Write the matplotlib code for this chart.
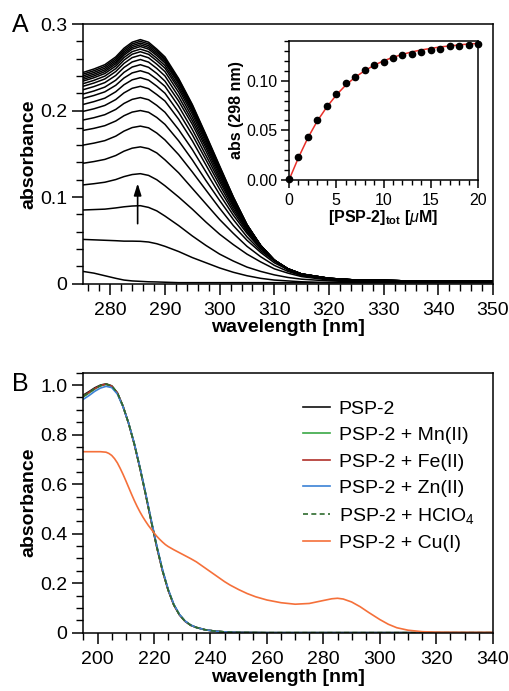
import matplotlib
matplotlib.use('Agg')
import matplotlib.pyplot as plt
from matplotlib.ticker import MultipleLocator

plt.rcParams['font.family'] = ['Liberation Sans', 'DejaVu Sans']
plt.rcParams['mathtext.fontset'] = 'custom'
plt.rcParams['mathtext.rm'] = 'Liberation Sans'
plt.rcParams['mathtext.it'] = 'Liberation Sans:italic'
plt.rcParams['mathtext.bf'] = 'Liberation Sans:bold'

# Panel A: titration spectra (0-20 uM PSP-2)
wl_a = [275, 277, 279, 281, 282.5, 284, 285.5, 287, 288.5, 290, 292.5, 295, 297.5, 300,
        302.5, 305, 307.5, 310, 312.5, 315, 320, 325, 335, 350]
spectra_a = [
    [0.014, 0.012, 0.009, 0.006, 0.004, 0.003, 0.0025, 0.002, 0.0018, 0.0015, 0.001, 0.001, 0.001, 0.001, 0.001, 0.001, 0.001, 0.001, 0.001, 0.001, 0.001, 0.001, 0.001, 0.001],
    [0.051, 0.0505, 0.050, 0.0495, 0.049, 0.049, 0.0488, 0.048, 0.046, 0.043, 0.037, 0.030, 0.024, 0.018, 0.013, 0.009, 0.006, 0.004, 0.003, 0.002, 0.001, 0.001, 0.001, 0.001],
    [0.085, 0.0855, 0.086, 0.0874, 0.0887, 0.0896, 0.090, 0.088, 0.084, 0.078, 0.067, 0.055, 0.044, 0.034, 0.026, 0.019, 0.014, 0.010, 0.007, 0.005, 0.003, 0.002, 0.002, 0.002],
    [0.114, 0.1154, 0.1171, 0.1202, 0.1236, 0.126, 0.127, 0.125, 0.120, 0.113, 0.100, 0.086, 0.071, 0.057, 0.045, 0.034, 0.025, 0.017, 0.012, 0.008, 0.004, 0.003, 0.002, 0.002],
    [0.139, 0.141, 0.1435, 0.148, 0.153, 0.1565, 0.158, 0.156, 0.151, 0.143, 0.128, 0.110, 0.092, 0.074, 0.058, 0.043, 0.031, 0.021, 0.014, 0.009, 0.005, 0.003, 0.002, 0.002],
    [0.160, 0.1623, 0.1652, 0.1704, 0.1762, 0.1803, 0.182, 0.180, 0.174, 0.166, 0.149, 0.129, 0.108, 0.087, 0.067, 0.050, 0.036, 0.024, 0.016, 0.011, 0.005, 0.004, 0.003, 0.002],
    [0.177, 0.1794, 0.1825, 0.1879, 0.1940, 0.1982, 0.200, 0.198, 0.192, 0.184, 0.165, 0.143, 0.119, 0.096, 0.074, 0.054, 0.038, 0.026, 0.017, 0.011, 0.006, 0.004, 0.003, 0.002],
    [0.189, 0.1917, 0.1952, 0.2013, 0.2082, 0.2129, 0.215, 0.2125, 0.206, 0.198, 0.178, 0.155, 0.129, 0.103, 0.079, 0.058, 0.040, 0.027, 0.017, 0.011, 0.006, 0.004, 0.003, 0.002],
    [0.199, 0.202, 0.2059, 0.2127, 0.2204, 0.2257, 0.228, 0.2253, 0.2185, 0.211, 0.190, 0.165, 0.137, 0.109, 0.083, 0.060, 0.041, 0.027, 0.017, 0.011, 0.006, 0.004, 0.003, 0.002],
    [0.207, 0.2103, 0.2143, 0.2217, 0.2298, 0.2355, 0.238, 0.2352, 0.2282, 0.220, 0.198, 0.172, 0.143, 0.114, 0.086, 0.062, 0.042, 0.027, 0.017, 0.011, 0.006, 0.004, 0.003, 0.003],
    [0.214, 0.2174, 0.2216, 0.2292, 0.2376, 0.2435, 0.246, 0.2431, 0.2361, 0.228, 0.205, 0.178, 0.148, 0.118, 0.089, 0.063, 0.043, 0.027, 0.017, 0.011, 0.006, 0.004, 0.003, 0.003],
    [0.219, 0.2226, 0.2271, 0.2351, 0.2441, 0.2503, 0.253, 0.250, 0.2429, 0.234, 0.211, 0.184, 0.153, 0.121, 0.091, 0.065, 0.043, 0.027, 0.017, 0.011, 0.006, 0.004, 0.003, 0.003],
    [0.224, 0.2277, 0.2323, 0.2406, 0.2498, 0.2562, 0.259, 0.256, 0.2487, 0.240, 0.216, 0.188, 0.157, 0.124, 0.093, 0.066, 0.043, 0.027, 0.017, 0.011, 0.006, 0.004, 0.003, 0.003],
    [0.228, 0.2318, 0.2365, 0.2451, 0.2545, 0.2612, 0.264, 0.261, 0.2536, 0.245, 0.221, 0.192, 0.160, 0.127, 0.094, 0.066, 0.044, 0.027, 0.017, 0.011, 0.006, 0.004, 0.003, 0.003],
    [0.231, 0.2349, 0.2398, 0.2485, 0.2583, 0.2651, 0.268, 0.265, 0.2575, 0.249, 0.225, 0.196, 0.163, 0.129, 0.096, 0.067, 0.044, 0.027, 0.016, 0.010, 0.005, 0.004, 0.003, 0.003],
    [0.234, 0.2379, 0.2428, 0.2515, 0.2613, 0.2681, 0.271, 0.268, 0.2605, 0.252, 0.228, 0.199, 0.166, 0.131, 0.097, 0.067, 0.044, 0.027, 0.016, 0.010, 0.005, 0.004, 0.003, 0.003],
    [0.236, 0.240, 0.245, 0.254, 0.264, 0.271, 0.274, 0.271, 0.2635, 0.255, 0.231, 0.201, 0.167, 0.132, 0.098, 0.067, 0.044, 0.027, 0.016, 0.010, 0.005, 0.004, 0.003, 0.003],
    [0.238, 0.242, 0.247, 0.256, 0.266, 0.273, 0.276, 0.273, 0.2655, 0.257, 0.233, 0.203, 0.169, 0.133, 0.098, 0.068, 0.044, 0.027, 0.016, 0.010, 0.005, 0.004, 0.003, 0.003],
    [0.240, 0.244, 0.249, 0.258, 0.268, 0.275, 0.278, 0.275, 0.2675, 0.259, 0.234, 0.204, 0.170, 0.134, 0.099, 0.068, 0.044, 0.027, 0.016, 0.010, 0.005, 0.004, 0.003, 0.003],
    [0.242, 0.246, 0.251, 0.260, 0.270, 0.277, 0.280, 0.277, 0.2695, 0.260, 0.236, 0.206, 0.171, 0.135, 0.100, 0.068, 0.044, 0.027, 0.016, 0.010, 0.005, 0.004, 0.003, 0.003],
    [0.244, 0.248, 0.253, 0.262, 0.272, 0.279, 0.282, 0.279, 0.271, 0.262, 0.237, 0.207, 0.172, 0.136, 0.100, 0.068, 0.044, 0.027, 0.016, 0.010, 0.005, 0.004, 0.003, 0.003],
]

# inset: abs at 298 nm vs total PSP-2
conc = list(range(21))
abs298 = [0.001, 0.023, 0.043, 0.060, 0.075, 0.087, 0.098, 0.104, 0.111, 0.116, 0.119,
          0.123, 0.126, 0.127, 0.129, 0.131, 0.132, 0.135, 0.135, 0.136, 0.137]
abs298_fit = [0.0, 0.0225, 0.0425, 0.0595, 0.0735, 0.0855, 0.0955, 0.1035, 0.110, 0.1155, 0.120,
              0.1235, 0.1265, 0.129, 0.131, 0.1325, 0.134, 0.135, 0.136, 0.137, 0.1375]

# Panel B: metal selectivity
wl_b = [195, 197, 199, 201, 203, 205, 207, 209, 211, 213, 215, 217, 219, 221, 223, 225,
        227, 229, 231, 233, 235, 238, 241, 245, 250, 260, 280, 300, 340]
psp2 = [0.960, 0.974, 0.989, 1.000, 1.005, 0.997, 0.969, 0.915, 0.845, 0.762, 0.665, 0.560, 0.450, 0.345, 0.250, 0.172,
        0.112, 0.072, 0.046, 0.030, 0.021, 0.012, 0.007, 0.003, 0.001, 0.0, 0.0, 0.0, 0.0]
psp2_mn = [0.953, 0.968, 0.984, 0.997, 1.003, 0.996, 0.968, 0.915, 0.846, 0.763, 0.666, 0.561, 0.451, 0.346, 0.251, 0.173,
           0.113, 0.073, 0.047, 0.030, 0.021, 0.012, 0.007, 0.003, 0.001, 0.0, 0.0, 0.0, 0.0]
psp2_fe = [0.956, 0.971, 0.986, 0.998, 1.004, 0.996, 0.968, 0.914, 0.845, 0.762, 0.665, 0.560, 0.450, 0.345, 0.250, 0.172,
           0.112, 0.072, 0.046, 0.030, 0.021, 0.012, 0.007, 0.003, 0.001, 0.0, 0.0, 0.0, 0.0]
psp2_zn = [0.943, 0.958, 0.975, 0.988, 0.995, 0.990, 0.964, 0.913, 0.846, 0.765, 0.669, 0.565, 0.456, 0.350, 0.255, 0.176,
           0.115, 0.074, 0.047, 0.031, 0.021, 0.012, 0.007, 0.003, 0.001, 0.0, 0.0, 0.0, 0.0]
psp2_hclo4 = [0.955, 0.970, 0.986, 0.998, 1.004, 0.997, 0.969, 0.915, 0.845, 0.762, 0.665, 0.560, 0.450, 0.345, 0.250, 0.172,
              0.112, 0.072, 0.046, 0.030, 0.021, 0.012, 0.007, 0.003, 0.001, 0.0, 0.0, 0.0, 0.0]
wl_cu = [195, 197, 199, 201, 203, 204, 205, 206, 207, 208, 209, 210, 211, 212, 213, 214, 215, 216, 217, 218,
         219, 220, 221, 222, 223, 224, 225, 227, 229, 231, 233, 235, 238, 241, 243, 245, 247, 250, 253, 256,
         260, 265, 270, 275, 280, 283, 285, 287, 290, 293, 296, 300, 303, 306, 310, 315, 320, 330, 340]
psp2_cu = [0.731, 0.731, 0.731, 0.731, 0.729, 0.724, 0.716, 0.703, 0.686, 0.664, 0.640, 0.614, 0.587, 0.560, 0.534, 0.510, 0.488, 0.468, 0.450, 0.433,
           0.418, 0.403, 0.389, 0.377, 0.366, 0.356, 0.348, 0.335, 0.323, 0.311, 0.299, 0.286, 0.262, 0.238, 0.222, 0.206, 0.192, 0.174, 0.158, 0.145,
           0.132, 0.121, 0.115, 0.118, 0.130, 0.137, 0.139, 0.136, 0.124, 0.105, 0.082, 0.053, 0.034, 0.020, 0.010, 0.004, 0.002, 0.001, 0.001]

fs = 14
fs_in = 11.5
fig = plt.figure(figsize=(5.09, 6.91), dpi=100)


def style_axes(ax, size=fs, major=8, minor=5, xpad=5, ypad=3.5):
    for s in ax.spines.values():
        s.set_linewidth(1.1)
    ax.tick_params(which='major', direction='out', length=major, width=1.1, labelsize=size)
    ax.tick_params(which='minor', direction='out', length=minor, width=1.0)
    ax.tick_params(axis='x', which='major', pad=xpad)
    ax.tick_params(axis='y', which='major', pad=ypad)


# ---- panel A ----
axA = fig.add_axes([0.163, 0.5897, 0.8055, 0.3755])
for row in spectra_a:
    axA.plot(wl_a, row, color='k', lw=1.1)
axA.set_xlim(275, 350)
axA.set_ylim(0, 0.3)
axA.xaxis.set_major_locator(MultipleLocator(10))
axA.xaxis.set_minor_locator(MultipleLocator(2))
axA.set_yticks([0, 0.1, 0.2, 0.3], ['0', '0.1', '0.2', '0.3'])
axA.yaxis.set_minor_locator(MultipleLocator(0.02))
style_axes(axA)
axA.set_xlabel('wavelength [nm]', fontsize=fs, fontweight='bold', labelpad=0)
axA.set_ylabel('absorbance', fontsize=fs, fontweight='bold', labelpad=2)
axA.annotate('', xy=(285, 0.119), xytext=(285, 0.066),
             arrowprops=dict(arrowstyle='-|>,head_length=0.7,head_width=0.22', color='k', lw=1.2))

# inset
axI = fig.add_axes([0.5678, 0.7395, 0.3713, 0.2012])
axI.plot(conc, abs298_fit, color='#e8302a', lw=1.1)
axI.plot(conc, abs298, 'o', color='k', ms=4.5, clip_on=False, zorder=3)
axI.set_xlim(0, 20)
axI.set_ylim(0, 0.14)
axI.xaxis.set_major_locator(MultipleLocator(5))
axI.xaxis.set_minor_locator(MultipleLocator(1))
axI.set_yticks([0, 0.05, 0.10], ['0.00', '0.05', '0.10'])
axI.yaxis.set_minor_locator(MultipleLocator(0.01))
style_axes(axI, size=fs_in, major=6, minor=3.5, xpad=3, ypad=2)
axI.set_xlabel(r'[PSP-2]$_{\mathbf{tot}}$ [$\mu$M]', fontsize=fs_in, fontweight='bold', labelpad=0)
axI.set_ylabel('abs (298 nm)', fontsize=fs_in, fontweight='bold', labelpad=2)

# ---- panel B ----
axB = fig.add_axes([0.164, 0.0844, 0.8041, 0.3762])
axB.plot(wl_b, psp2, color='#111111', lw=1.2, label='PSP-2')
axB.plot(wl_b, psp2_mn, color='#3aa845', lw=1.2, label='PSP-2 + Mn(II)')
axB.plot(wl_b, psp2_fe, color='#b0302a', lw=1.2, label='PSP-2 + Fe(II)')
axB.plot(wl_b, psp2_zn, color='#3b82d6', lw=1.2, label='PSP-2 + Zn(II)')
axB.plot(wl_b, psp2_hclo4, color='#2e6b2e', lw=1.2, ls=(0, (3, 2)), label='PSP-2 + HClO$_4$')
axB.plot(wl_cu, psp2_cu, color='#f5703a', lw=1.2, label='PSP-2 + Cu(I)')
axB.set_xlim(195, 340)
axB.set_ylim(0, 1.05)
axB.xaxis.set_major_locator(MultipleLocator(20))
axB.xaxis.set_minor_locator(MultipleLocator(5))
axB.set_yticks([0, 0.2, 0.4, 0.6, 0.8, 1.0], ['0', '0.2', '0.4', '0.6', '0.8', '1.0'])
axB.yaxis.set_minor_locator(MultipleLocator(0.05))
style_axes(axB)
axB.set_xlabel('wavelength [nm]', fontsize=fs, fontweight='bold', labelpad=1)
axB.set_ylabel('absorbance', fontsize=fs, fontweight='bold', labelpad=2)
axB.legend(loc='upper left', bbox_to_anchor=(0.536, 0.894), frameon=False, fontsize=fs,
           borderpad=0, borderaxespad=0, handlelength=1.4, handletextpad=0.45, labelspacing=0.45)

fig.text(12 / 509, 1 - 25 / 691, 'A', fontsize=18, va='center', ha='left')
fig.text(12 / 509, 1 - 384 / 691, 'B', fontsize=18, va='center', ha='left')

fig.savefig('out.png', dpi=100)
